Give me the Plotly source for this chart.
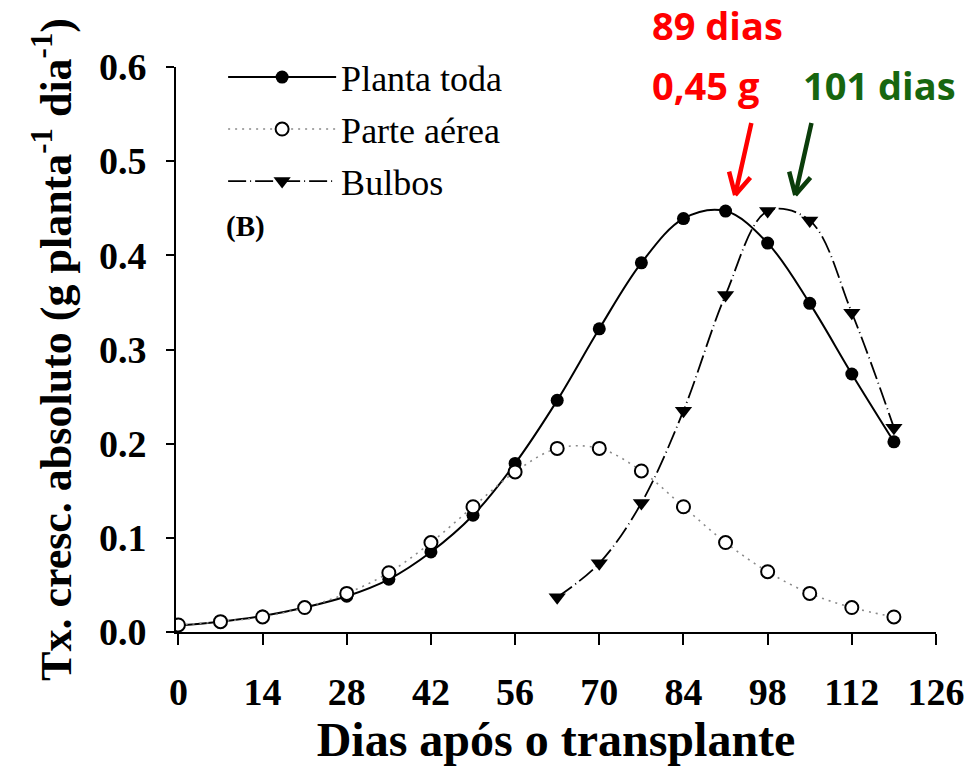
import plotly.graph_objects as go

# Days after transplanting (weekly samplings)
dias = [0, 7, 14, 21, 28, 35, 42, 49, 56, 63, 70, 77, 84, 91, 98, 105, 112, 119]

# Absolute growth rate (g planta-1 dia-1)
planta_toda = [0.007, 0.011, 0.017, 0.026, 0.038, 0.056, 0.085, 0.124, 0.179,
               0.246, 0.322, 0.392, 0.439, 0.447, 0.413, 0.349, 0.274, 0.202]
parte_aerea = [0.0075, 0.011, 0.016, 0.026, 0.041, 0.063, 0.095, 0.133, 0.170,
               0.195, 0.195, 0.171, 0.133, 0.095, 0.064, 0.041, 0.026, 0.016]
dias_bulbos = [63, 70, 77, 84, 91, 98, 105, 112, 119]
bulbos = [0.037, 0.073, 0.137, 0.235, 0.358, 0.447, 0.437, 0.339, 0.217]

x_ticks = list(range(0, 127, 14))
y_ticks = [0.0, 0.1, 0.2, 0.3, 0.4, 0.5, 0.6]

SERIF = "Liberation Serif"
SANS = "Open Sans"

fig = go.Figure()

fig.add_trace(go.Scatter(
    x=dias, y=planta_toda, name="Planta toda", mode="lines+markers", legend="legend",
    line=dict(color="black", width=2, shape="spline", smoothing=1.0),
    marker=dict(symbol="circle", size=13, color="black"),
))
fig.add_trace(go.Scatter(
    x=dias, y=parte_aerea, name="Parte aérea", mode="lines+markers", legend="legend2",
    line=dict(color="#8a8a8a", width=1.6, dash="2px,5px", shape="spline", smoothing=1.0),
    marker=dict(symbol="circle", size=13, color="white",
                line=dict(color="black", width=2)),
))
fig.add_trace(go.Scatter(
    x=dias_bulbos, y=bulbos, name="Bulbos", mode="lines+markers", legend="legend3",
    line=dict(color="black", width=1.8, dash="18px,4px,1px,4px", shape="spline", smoothing=1.0),
    marker=dict(symbol="triangle-down", size=15, color="black"),
))

annotations = []

# Peak labels
annotations.append(dict(text="<b>89 dias</b>", xref="paper", yref="paper", x=0.6234, y=1.074,
                        xanchor="left", yanchor="middle", showarrow=False,
                        font=dict(family=SANS, size=38, color="#ff0000")))
annotations.append(dict(text="<b>0,45 g</b>", xref="paper", yref="paper", x=0.6234, y=0.968,
                        xanchor="left", yanchor="middle", showarrow=False,
                        font=dict(family=SANS, size=38, color="#ff0000")))
annotations.append(dict(text="<b>101 dias</b>", xref="paper", yref="paper", x=0.8228, y=0.968,
                        xanchor="left", yanchor="middle", showarrow=False,
                        font=dict(family=SANS, size=38, color="#17660f")))
annotations.append(dict(text="<b>(B)</b>", xref="paper", yref="paper", x=0.092, y=0.717,
                        xanchor="center", yanchor="middle", showarrow=False,
                        font=dict(family=SERIF, size=29, color="black")))


def open_arrow(tip_x, tip_y, color):
    """Shaft plus two barbs, each drawn as a plain annotation line ending at the tip."""
    segs = [(16.5, -73.5), (-6.5, -25), (16.5, -19)]
    for ax, ay in segs:
        annotations.append(dict(
            x=tip_x, y=tip_y, xref="x", yref="y", ax=ax, ay=ay, text="",
            showarrow=True, arrowhead=0, arrowwidth=4.5, arrowcolor=color,
            standoff=0, startstandoff=0,
        ))


open_arrow(92.6, 0.464, "#ff0000")
open_arrow(102.6, 0.464, "#0b3d0b")


def legend_box(y):
    return dict(
        x=0.062, y=y, xanchor="left", yanchor="middle",
        font=dict(family=SERIF, size=36, color="black"),
        itemwidth=108, bgcolor="rgba(0,0,0,0)", tracegroupgap=0,
    )


fig.update_layout(
    width=977, height=776,
    margin=dict(l=176, r=39, t=67, b=144),
    plot_bgcolor="white", paper_bgcolor="white",
    font=dict(family=SERIF, color="black"),
    showlegend=True,
    legend=legend_box(0.982),
    legend2=legend_box(0.890),
    legend3=legend_box(0.798),
    annotations=annotations,
    xaxis=dict(
        range=[-0.4, 126], tickmode="array", tickvals=x_ticks,
        ticktext=[str(v) for v in x_ticks],
        showline=True, linecolor="black", linewidth=2,
        ticks="outside", ticklen=11, tickwidth=2, tickcolor="black",
        showgrid=False, zeroline=False,
        tickfont=dict(family=SERIF, size=38, color="black", weight="bold"),
        ticklabelstandoff=14,
        title=dict(text="<b>Dias após o transplante</b>", standoff=3,
                   font=dict(family=SERIF, size=48, color="black")),
    ),
    yaxis=dict(
        range=[0, 0.6], tickmode="array", tickvals=y_ticks,
        ticktext=[f"{v:.1f}" for v in y_ticks],
        showline=True, linecolor="black", linewidth=2,
        ticks="outside", ticklen=8, tickwidth=2, tickcolor="black",
        showgrid=False, zeroline=False,
        tickfont=dict(family=SERIF, size=38, color="black", weight="bold"),
        ticklabelstandoff=12,
        title=dict(text="<b>Tx. cresc. absoluto (g planta<sup>-1</sup> dia<sup>-1</sup>)</b>",
                   standoff=14, font=dict(family=SERIF, size=44, color="black")),
    ),
)

fig.write_html("out.html")
